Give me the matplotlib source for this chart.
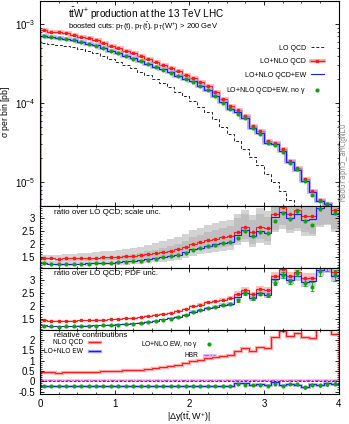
import numpy as np
import matplotlib
matplotlib.use("Agg")
import matplotlib.pyplot as plt
from matplotlib.ticker import MultipleLocator, FuncFormatter, LogLocator, NullFormatter
from matplotlib.lines import Line2D

plt.rcParams.update({
    "font.family": ["Liberation Sans", "DejaVu Sans"],
    "font.size": 6.5,
    "mathtext.fontset": "custom",
    "mathtext.rm": "Liberation Sans",
    "mathtext.it": "Liberation Sans",
    "mathtext.default": "regular",
    "axes.linewidth": 0.8,
    "xtick.direction": "in", "ytick.direction": "in",
    "xtick.top": True, "ytick.right": True,
    "xtick.major.size": 3.0, "ytick.major.size": 3.0,
    "xtick.minor.size": 1.6, "ytick.minor.size": 1.6,
    "xtick.major.width": 0.6, "ytick.major.width": 0.6,
    "xtick.minor.width": 0.5, "ytick.minor.width": 0.5,
})

RED = "#ff1a1a"
PINK = "#ff9a9a"
BLUE = "#1a1aff"
LBLUE = "#9fa3ff"
GREEN = "#10a010"
MAG = "#d050d0"
LMAG = "#e8b0f0"

# ---------- data: 40 bins of |dy(tt,W+)| ----------
edges = np.linspace(0.0, 4.0, 41)
centers = 0.5 * (edges[1:] + edges[:-1])

lo_qcd = [5.7e-4, 5.6e-4, 5.5e-4, 5.3e-4, 5.1e-4, 4.8e-4, 4.55e-4, 4.3e-4, 3.95e-4, 3.6e-4,
          3.3e-4, 3.0e-4, 2.75e-4, 2.5e-4, 2.25e-4, 2.0e-4, 1.8e-4, 1.6e-4, 1.4e-4, 1.22e-4,
          1.05e-4, 8.9e-5, 7.6e-5, 6.3e-5, 5.0e-5, 4.0e-5, 3.3e-5, 2.6e-5, 2.1e-5, 1.65e-5,
          1.28e-5, 1.0e-5, 7.6e-6, 5.9e-6, 4.5e-6, 3.5e-6, 2.5e-6, 1.7e-6, 1.5e-6, 1.2e-6]

# ratios over LO QCD
r_qcd = [1.47, 1.44, 1.43, 1.44, 1.44, 1.45, 1.46, 1.47, 1.48, 1.49,
         1.51, 1.53, 1.55, 1.57, 1.61, 1.65, 1.70, 1.74, 1.80, 1.88,
         2.00, 2.06, 2.14, 2.19, 2.25, 2.30, 2.48, 2.64, 2.45, 2.66,
         2.62, 3.15, 3.42, 3.15, 3.32, 3.10, 3.08, 3.52, 3.55, 3.30]
r_qcdew = [1.26, 1.23, 1.22, 1.23, 1.23, 1.24, 1.25, 1.26, 1.27, 1.28,
           1.30, 1.32, 1.34, 1.36, 1.40, 1.44, 1.49, 1.53, 1.59, 1.67,
           1.79, 1.85, 1.93, 1.98, 2.04, 2.09, 2.36, 2.52, 2.30, 2.50,
           2.44, 3.05, 3.22, 3.02, 3.15, 2.92, 2.95, 3.40, 3.50, 3.15]
r_noa = [1.25, 1.22, 1.21, 1.22, 1.22, 1.23, 1.24, 1.25, 1.26, 1.27,
         1.29, 1.31, 1.33, 1.35, 1.39, 1.43, 1.48, 1.52, 1.58, 1.66,
         1.78, 1.84, 1.92, 1.97, 2.03, 2.08, 2.22, 2.50, 2.30, 2.48,
         2.42, 2.90, 3.20, 2.95, 3.28, 2.90, 2.75, 3.35, 3.55, 3.18]
r_noa_err = [0.02, 0.02, 0.02, 0.02, 0.02, 0.02, 0.02, 0.02, 0.02, 0.02,
             0.02, 0.02, 0.02, 0.02, 0.02, 0.02, 0.02, 0.03, 0.03, 0.03,
             0.03, 0.03, 0.03, 0.04, 0.04, 0.04, 0.05, 0.06, 0.06, 0.07,
             0.08, 0.10, 0.12, 0.10, 0.12, 0.14, 0.16, 0.18, 0.18, 0.20]

# relative scale uncertainty (up / down)
scale_up = [0.08, 0.09, 0.10, 0.11, 0.12, 0.13, 0.14, 0.15, 0.16, 0.17,
            0.18, 0.19, 0.20, 0.21, 0.22, 0.23, 0.24, 0.25, 0.26, 0.27,
            0.27, 0.27, 0.28, 0.28, 0.28, 0.28, 0.27, 0.26, 0.28, 0.27,
            0.25, 0.22, 0.20, 0.23, 0.21, 0.22, 0.23, 0.20, 0.18, 0.22]
scale_dn = [0.05, 0.05, 0.05, 0.06, 0.06, 0.06, 0.07, 0.07, 0.08, 0.08,
            0.09, 0.09, 0.10, 0.10, 0.11, 0.11, 0.12, 0.12, 0.13, 0.13,
            0.14, 0.14, 0.15, 0.15, 0.16, 0.16, 0.17, 0.17, 0.18, 0.18,
            0.19, 0.19, 0.20, 0.20, 0.21, 0.21, 0.22, 0.22, 0.22, 0.22]
# relative PDF uncertainty
pdf_unc = [0.015, 0.015, 0.015, 0.015, 0.015, 0.016, 0.016, 0.016, 0.017, 0.017,
           0.018, 0.018, 0.019, 0.019, 0.020, 0.020, 0.021, 0.022, 0.023, 0.024,
           0.025, 0.026, 0.027, 0.028, 0.030, 0.032, 0.034, 0.036, 0.038, 0.040,
           0.045, 0.050, 0.050, 0.055, 0.055, 0.060, 0.060, 0.065, 0.065, 0.070]

# relative contributions
rel_nloqcd = [0.45, 0.43, 0.42, 0.43, 0.43, 0.44, 0.45, 0.46, 0.47, 0.48,
              0.50, 0.52, 0.54, 0.56, 0.60, 0.64, 0.69, 0.73, 0.79, 0.87,
              0.99, 1.05, 1.13, 1.18, 1.24, 1.29, 1.46, 1.63, 1.46, 1.66,
              1.62, 2.15, 2.43, 2.18, 2.32, 2.12, 2.08, 2.52, 2.55, 2.30]
rel_ew = [-0.21, -0.21, -0.21, -0.21, -0.21, -0.21, -0.21, -0.21, -0.21, -0.21,
          -0.21, -0.21, -0.21, -0.21, -0.21, -0.21, -0.21, -0.21, -0.21, -0.21,
          -0.21, -0.21, -0.21, -0.21, -0.22, -0.23, -0.10, -0.10, -0.17, -0.15,
          -0.18, -0.06, -0.18, -0.13, -0.17, -0.27, -0.13, -0.17, -0.10, -0.15]
rel_noa = [-0.22, -0.22, -0.22, -0.22, -0.22, -0.22, -0.22, -0.22, -0.22, -0.22,
           -0.22, -0.22, -0.22, -0.22, -0.22, -0.22, -0.22, -0.22, -0.22, -0.22,
           -0.22, -0.22, -0.22, -0.22, -0.23, -0.24, -0.14, -0.17, -0.20, -0.16,
           -0.22, -0.12, -0.24, -0.12, -0.14, -0.30, -0.18, -0.20, -0.14, -0.12]
rel_noa_err = [0.01] * 20 + [0.015, 0.015, 0.015, 0.02, 0.02, 0.02, 0.03, 0.03, 0.03, 0.03,
                              0.04, 0.04, 0.05, 0.05, 0.05, 0.06, 0.06, 0.07, 0.07, 0.08]
rel_hbr = [0.07, 0.07, 0.07, 0.07, 0.07, 0.07, 0.07, 0.07, 0.07, 0.07,
           0.07, 0.07, 0.07, 0.07, 0.07, 0.07, 0.07, 0.07, 0.07, 0.07,
           0.07, 0.07, 0.07, 0.07, 0.07, 0.07, 0.07, 0.07, 0.07, 0.07,
           0.07, 0.07, 0.07, 0.07, 0.08, 0.07, 0.07, 0.08, 0.07, 0.07]

lo_qcd, r_qcd, r_qcdew, r_noa = map(np.asarray, (lo_qcd, r_qcd, r_qcdew, r_noa))
scale_up, scale_dn, pdf_unc = map(np.asarray, (scale_up, scale_dn, pdf_unc))

# ---------- figure ----------
W, H = 349, 424
fig = plt.figure(figsize=(W / 100, H / 100), dpi=100)
L, R = 40 / W, 338.5 / W


def frac(top, bot):
    return [L, 1 - bot / H, R - L, (bot - top) / H]


ax0 = fig.add_axes(frac(0.5, 205.7))
ax1 = fig.add_axes(frac(205.7, 267.7), sharex=ax0)
ax2 = fig.add_axes(frac(267.7, 330.0), sharex=ax0)
ax3 = fig.add_axes(frac(330.0, 394.0), sharex=ax0)

for ax in (ax0, ax1, ax2, ax3):
    ax.set_xlim(0, 4)
    ax.xaxis.set_major_locator(MultipleLocator(1))
    ax.xaxis.set_minor_locator(MultipleLocator(0.25))
    ax.tick_params(which="both", labelbottom=False)
ax3.tick_params(labelbottom=True, labelsize=7)

gfmt = FuncFormatter(lambda v, p: f"{v:g}")

# main panel
ax0.set_yscale("log")
ax0.set_ylim(5e-6, 2e-3)
ax0.yaxis.set_major_locator(LogLocator(base=10))
ax0.yaxis.set_minor_locator(LogLocator(base=10, subs=np.arange(2, 10)))
ax0.yaxis.set_minor_formatter(NullFormatter())
ax0.tick_params(axis="y", labelsize=7)

ax0.stairs(lo_qcd, edges, color="#222222", lw=0.7, ls=(0, (3, 2)))
ax0.stairs(lo_qcd * r_qcd, edges, color=PINK, lw=2.6, alpha=0.8)
ax0.stairs(lo_qcd * r_qcd, edges, color=RED, lw=0.8)
ax0.plot(centers, lo_qcd * r_qcd, ls="none", marker="s", ms=1.6, color=RED)
ax0.stairs(lo_qcd * r_qcdew, edges, color=LBLUE, lw=2.6, alpha=0.8)
ax0.stairs(lo_qcd * r_qcdew, edges, color=BLUE, lw=0.8)
ax0.plot(centers, lo_qcd * r_noa, ls="none", marker="o", ms=2.0, color=GREEN)

h_lo = Line2D([], [], color="#222222", lw=0.7, ls=(0, (3, 2)))
h_qcd = (Line2D([], [], color=PINK, lw=2.6), Line2D([], [], color=RED, lw=0.8, marker="s", ms=1.6))
h_ew = Line2D([], [], color=BLUE, lw=0.8)
h_noa = Line2D([], [], ls="none", marker="o", ms=2.0, color=GREEN)
ax0.legend([h_lo, h_qcd, h_ew, h_noa],
           ["LO QCD", "LO+NLO QCD", "LO+NLO QCD+EW", r"LO+NLO QCD+EW, no $\gamma$"],
           loc="upper right", bbox_to_anchor=(0.951, 0.785), borderaxespad=0, borderpad=0,
           markerfirst=False, frameon=False, fontsize=5.0, handlelength=1.9,
           labelspacing=0.95, handletextpad=0.7)

ax0.text(0.094, 0.937, r"$t\bar{t}W^{+}$ production at the 13 TeV LHC",
         transform=ax0.transAxes, fontsize=7.2, va="center", ha="left")
ax0.text(0.094, 0.872, r"boosted cuts: $p_T(t)$, $p_T(\bar{t})$, $p_T(W^{+})$ > 200 GeV",
         transform=ax0.transAxes, fontsize=5.5, va="center", ha="left")
ax0.set_ylabel(r"$\sigma$ per bin [pb]", fontsize=6.2)
ax0.yaxis.set_label_coords(-0.094, 0.456)
fig.text(343 / W, 1 - 162 / H, "MadGraph5_aMC@NLO", rotation=90, fontsize=5.5,
         color="#909090", ha="center", va="center", family="DejaVu Sans Mono")

# ratio panels
for ax in (ax1, ax2):
    ax.set_ylim(1.08, 3.48)
    ax.yaxis.set_major_locator(MultipleLocator(0.5))
    ax.yaxis.set_minor_locator(MultipleLocator(0.1))
    ax.yaxis.set_major_formatter(gfmt)
    ax.tick_params(axis="y", labelsize=7)

# scale uncertainty bands
ax1.stairs(r_qcd * (1 + scale_up), edges, baseline=r_qcd * (1 - scale_dn), fill=True,
           color="#b0b0b0", alpha=0.55, lw=0)
ax1.stairs(r_qcdew * (1 + scale_up), edges, baseline=r_qcdew * (1 - scale_dn), fill=True,
           color="#b0b0b0", alpha=0.55, lw=0)
# pdf uncertainty bands
ax2.stairs(r_qcd * (1 + pdf_unc), edges, baseline=r_qcd * (1 - pdf_unc), fill=True,
           color=PINK, alpha=0.6, lw=0)
ax2.stairs(r_qcdew * (1 + pdf_unc), edges, baseline=r_qcdew * (1 - pdf_unc), fill=True,
           color=LBLUE, alpha=0.6, lw=0)

for ax in (ax1, ax2):
    ax.stairs(r_qcd, edges, color=RED, lw=0.8)
    ax.plot(centers, r_qcd, ls="none", marker="s", ms=1.6, color=RED)
    ax.stairs(r_qcdew, edges, color=BLUE, lw=0.8)
ax1.plot(centers, r_noa, ls="none", marker="o", ms=2.0, color=GREEN)
ax2.errorbar(centers, r_noa, yerr=r_noa_err, ls="none", marker="o", ms=2.0, color=GREEN,
             elinewidth=0.6, capsize=1.2, capthick=0.6)

ax1.text(0.047, 0.895, "ratio over LO QCD; scale unc.", transform=ax1.transAxes,
         fontsize=5.8, va="center")
ax2.text(0.047, 0.905, "ratio over LO QCD; PDF unc.", transform=ax2.transAxes,
         fontsize=5.8, va="center")

# relative contributions
ax3.set_ylim(-0.62, 2.48)
ax3.yaxis.set_major_locator(MultipleLocator(0.5))
ax3.yaxis.set_minor_locator(MultipleLocator(0.1))
ax3.yaxis.set_major_formatter(gfmt)
ax3.tick_params(axis="y", labelsize=7)
ax3.axhline(0, color="#222222", lw=0.6, ls=(0, (3, 2)))
ax3.stairs(rel_nloqcd, edges, color=PINK, lw=2.4, alpha=0.8)
ax3.stairs(rel_nloqcd, edges, color=RED, lw=0.8)
ax3.stairs(rel_hbr, edges, color=LMAG, lw=2.0, alpha=0.8)
ax3.stairs(rel_hbr, edges, color=MAG, lw=0.8, ls=(0, (4, 1.5, 1, 1.5)))
ax3.stairs(rel_ew, edges, color=LBLUE, lw=2.0, alpha=0.8)
ax3.stairs(rel_ew, edges, color=BLUE, lw=0.8)
ax3.errorbar(centers, rel_noa, yerr=rel_noa_err, ls="none", marker="o", ms=2.0, color=GREEN,
             elinewidth=0.6, capsize=1.0, capthick=0.6)

hr_qcd = (Line2D([], [], color=PINK, lw=2.4), Line2D([], [], color=RED, lw=0.8))
hr_ew = (Line2D([], [], color=LBLUE, lw=2.4), Line2D([], [], color=BLUE, lw=0.8))
hr_noa = Line2D([], [], ls="none", marker="o", ms=2.0, color=GREEN)
hr_hbr = (Line2D([], [], color=LMAG, lw=2.0), Line2D([], [], color=MAG, lw=0.8, ls=(0, (4, 1.5, 1, 1.5))))
leg_kw = dict(loc="upper right", borderaxespad=0, borderpad=0, markerfirst=False,
              frameon=False, fontsize=4.8, handlelength=1.7, labelspacing=0.3,
              handletextpad=0.8)
leg_a = ax3.legend([hr_qcd, hr_ew], ["NLO QCD", "LO+NLO EW"],
                   bbox_to_anchor=(0.201, 0.86), **leg_kw)
ax3.add_artist(leg_a)
ax3.legend([hr_noa, hr_hbr], [r"LO+NLO EW, no $\gamma$", "HBR"],
           bbox_to_anchor=(0.586, 0.86), **leg_kw)
ax3.text(0.047, 0.92, "relative contributions", transform=ax3.transAxes,
         fontsize=5.8, va="center")

ax3.set_xlabel(r"$|\Delta y(t\bar{t},W^{+})|$", fontsize=6.5)
ax3.xaxis.set_label_coords(0.5, -0.25)

fig.savefig("out.png", dpi=100)
